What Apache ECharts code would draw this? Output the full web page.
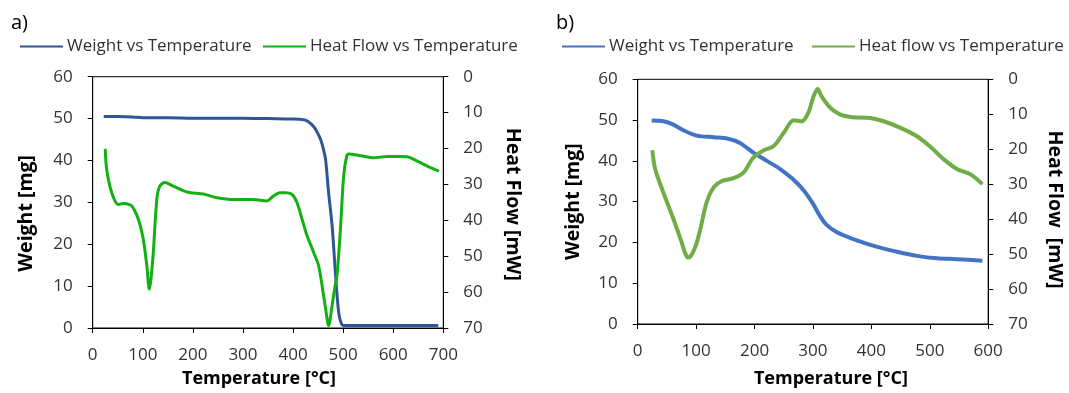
<!DOCTYPE html>
<html><head><meta charset="utf-8">
<script src="https://cdn.jsdelivr.net/npm/echarts@6/dist/echarts.min.js"></script>
<style>html,body{margin:0;padding:0;background:#fff}#c{width:1069px;height:393px}</style>
</head><body><div id="c"></div>
<script>
// ---------- Panel a) ----------
const aWeightT = [22, 50, 80, 100, 150, 200, 250, 300, 350, 400, 421, 430, 441, 448, 455, 460, 465, 471, 478, 485, 491, 496, 501, 520, 550, 600, 650, 690];
const aWeight  = [50.5, 50.5, 50.4, 50.2, 50.2, 50.1, 50.1, 50.1, 50.0, 49.9, 49.7, 49.3, 48.1, 46.8, 45.0, 43.0, 40.2, 32.3, 24.4, 12.5, 3.8, 1.2, 0.6, 0.6, 0.6, 0.6, 0.6, 0.6];
const aHeatT = [25, 28, 38, 51, 60, 68, 78, 91, 101, 108, 113, 120, 128, 134, 144, 161, 188, 221, 248, 281, 321, 348, 361, 374, 385, 398, 408, 418, 428, 441, 451, 458, 465, 471, 478, 483, 488, 495, 501, 507, 511, 535, 561, 588, 615, 628, 648, 668, 691];
const aHeat  = [20.1, 25.9, 32.3, 35.6, 35.3, 35.4, 36.0, 39.7, 45.3, 52.6, 59.2, 50.8, 34.2, 30.5, 29.5, 30.5, 32.1, 32.7, 33.7, 34.2, 34.2, 34.6, 33.2, 32.3, 32.3, 32.8, 35.1, 39.7, 44.3, 48.9, 52.6, 58.2, 64.6, 69.3, 63.7, 59.1, 55.0, 41.6, 27.7, 22.2, 21.5, 22.0, 22.6, 22.2, 22.2, 22.3, 23.5, 24.9, 26.3];

// ---------- Panel b) ----------
const bWeightT = [24, 44, 61, 78, 101, 130, 153, 175, 198, 221, 244, 265, 284, 300, 312, 322, 341, 375, 410, 444, 478, 513, 547, 590];
const bWeight  = [49.9, 49.7, 48.9, 47.5, 46.2, 45.8, 45.5, 44.4, 42.0, 40.0, 38.0, 35.6, 32.8, 29.5, 26.5, 24.5, 22.5, 20.5, 18.9, 17.7, 16.7, 16.1, 15.9, 15.5];
const bHeatT = [25, 30, 44, 61, 75, 81, 86, 92, 100, 107, 118, 130, 144, 164, 181, 198, 216, 233, 250, 267, 281, 292, 301, 308, 315, 330, 347, 364, 398, 421, 450, 478, 501, 524, 547, 570, 590];
const bHeat  = [20.3, 25.7, 32.4, 39.9, 46.5, 49.6, 51.0, 50.3, 47.3, 43.0, 35.2, 30.9, 29.1, 28.3, 26.7, 22.4, 20.3, 19.1, 15.3, 11.7, 12.0, 9.6, 4.9, 2.8, 4.9, 8.2, 10.1, 10.8, 11.1, 12.0, 13.9, 16.3, 19.3, 22.9, 25.7, 27.2, 30.0];

const xTicksA = [0, 700, 100];
const xTicksB = [0, 600, 100];
const weightTicks = [0, 60, 10];
const heatTicks = [0, 70, 10];

const legendNames = ['Weight vs Temperature', 'Heat Flow vs Temperature', 'Heat flow vs Temperature'];

const zip = (xs, ys) => xs.map((x, i) => [x, ys[i]]);
const FONT = 'Open Sans';
const colA = ['#2F5597', '#13B013'];
const colB = ['#4472C4', '#70AD47'];

function xAx(grid, t, gap, pad) {
  return {
    gridIndex: grid, type: 'value', min: t[0], max: t[1], interval: t[2],
    name: 'Temperature [°C]', nameLocation: 'middle', nameGap: gap,
    nameTextStyle: { fontFamily: FONT, fontWeight: 'bold', fontSize: 18, color: '#000', padding: pad },
    axisLine: { show: true, lineStyle: { color: '#000', width: 1 } },
    axisTick: { show: true, length: 5, lineStyle: { color: '#000' } },
    axisLabel: { fontFamily: FONT, fontSize: 17, color: '#333', margin: 19 },
    splitLine: { show: false }
  };
}
function yAx(grid, t, name, pos, rot, gap, pad, inverse) {
  return {
    gridIndex: grid, type: 'value', min: t[0], max: t[1], interval: t[2],
    position: pos, inverse: inverse,
    name: name, nameLocation: 'middle', nameRotate: rot, nameGap: gap,
    nameTextStyle: { fontFamily: FONT, fontWeight: 'bold', fontSize: 19.5, color: '#000', padding: pad },
    axisLine: { show: true, lineStyle: { color: '#000', width: 1 } },
    axisTick: { show: true, length: 5, lineStyle: { color: '#000' } },
    axisLabel: { fontFamily: FONT, fontSize: 17, color: '#333', margin: 20 },
    splitLine: { show: false }
  };
}
function leg(left, name, color) {
  return {
    left: left, top: 33, orient: 'horizontal', selectedMode: false,
    icon: 'rect', itemWidth: 43, itemHeight: 2, itemGap: 0,
    textStyle: { fontFamily: FONT, fontSize: 17, color: '#333', padding: [0, 0, 0, -1] },
    data: [{ name: name, itemStyle: { color: color } }]
  };
}
function ser(name, xi, yi, data, color, w) {
  return {
    name: name, type: 'line', xAxisIndex: xi, yAxisIndex: yi, data: data,
    showSymbol: false, symbol: 'none', smooth: 0.3, color: color,
    lineStyle: { color: color, width: w }
  };
}

const chart = echarts.init(document.getElementById('c'), null, { renderer: 'canvas' });
chart.setOption({
  animation: false,
  backgroundColor: '#fff',
  title: [
    { text: 'a)', left: 6, top: 8, textStyle: { fontFamily: FONT, fontSize: 20, fontWeight: 'normal', color: '#000' } },
    { text: 'b)', left: 551, top: 8, textStyle: { fontFamily: FONT, fontSize: 20, fontWeight: 'normal', color: '#000' } }
  ],
  legend: [
    leg(15, legendNames[0], colA[0]),
    leg(258, legendNames[1], colA[1]),
    leg(557, legendNames[0], colB[0]),
    leg(807, legendNames[2], colB[1])
  ],
  grid: [
    { left: 92.7, top: 76.7, width: 350.6, height: 252.6, show: true, borderColor: '#000', borderWidth: 1, backgroundColor: 'transparent' },
    { left: 637.7, top: 79.3, width: 350.5, height: 246.7, show: true, borderColor: '#000', borderWidth: 1, backgroundColor: 'transparent' }
  ],
  xAxis: [ xAx(0, xTicksA, 42, [0, 18, 0, 0]), xAx(1, xTicksB, 46, [0, 0, 0, 36]) ],
  yAxis: [
    yAx(0, weightTicks, 'Weight [mg]', 'left', 90, 56, [0, 22, 0, 0], false),
    yAx(0, heatTicks, 'Heat Flow [mW]', 'right', -90, 59, [0, 0, 0, 4], true),
    yAx(1, weightTicks, 'Weight [mg]', 'left', 90, 54, [0, 0, 0, 0], false),
    yAx(1, heatTicks, 'Heat Flow  [mW]', 'right', -90, 56, [0, 0, 0, 16], true)
  ],
  series: [
    ser(legendNames[0], 0, 0, zip(aWeightT, aWeight), colA[0], 3),
    ser(legendNames[1], 0, 1, zip(aHeatT, aHeat), colA[1], 3),
    ser(legendNames[0], 1, 2, zip(bWeightT, bWeight), colB[0], 4),
    ser(legendNames[2], 1, 3, zip(bHeatT, bHeat), colB[1], 4)
  ]
});
</script>
</body></html>
